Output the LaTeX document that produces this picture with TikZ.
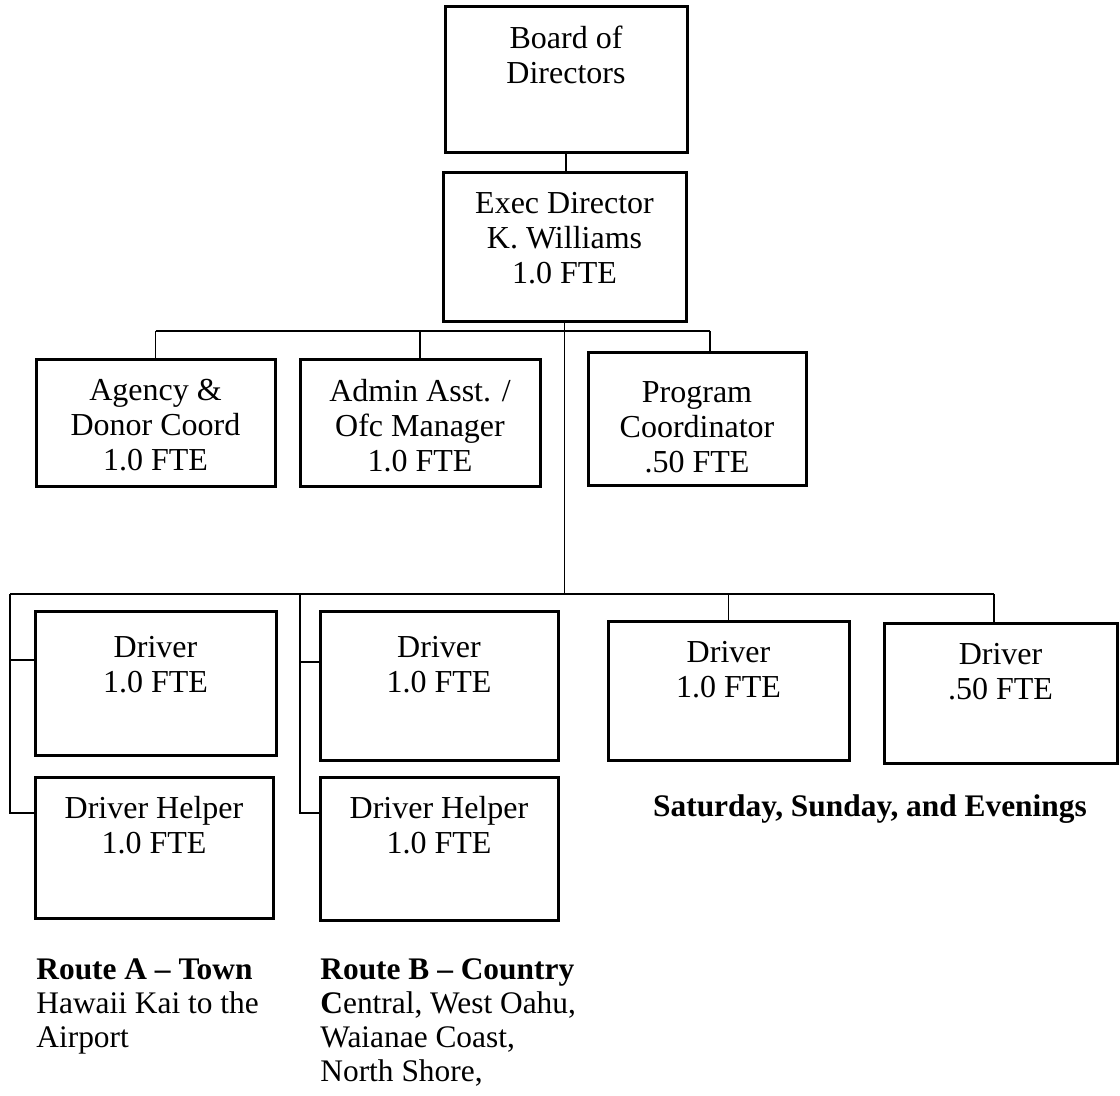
\documentclass[tikz,border=0pt]{standalone}
\usepackage{fontspec}
\setmainfont{Liberation Serif}
\tikzset{
  box/.style={draw, line width=1.5pt, inner sep=0pt},
  sz/.style 2 args={minimum width=#1*0.5pt, minimum height=#2*0.5pt},
  lbl/.style={anchor=north, yshift=-10pt, align=center, inner sep=0pt,
    font=\fontsize{16}{17.5}\selectfont},
  conn/.style={line width=0.6pt},
  note/.style={anchor=base west, inner sep=0pt, font=\fontsize{15.7}{17}\selectfont},
}
\begin{document}
\begin{tikzpicture}[x=0.5pt,y=-0.5pt]
\useasboundingbox (0,0) rectangle (1120,1096);

% boxes
\node[box, sz={242}{146}, label={[lbl]north:Board of\\Directors}] (board) at (566,80) {};
\node[box, sz={243}{149}, label={[lbl]north:Exec Director\\K. Williams\\1.0 FTE}] (exec) at (564.5,247.5) {};
\node[box, sz={239}{127}, label={[lbl]north:Agency \&\\Donor Coord\\1.0 FTE}] (agency) at (155.5,423.5) {};
\node[box, sz={240}{127}, label={[lbl]north:Admin Asst. /\\Ofc Manager\\1.0 FTE}] (admin) at (420,423.5) {};
\node[box, sz={218}{133}, label={[lbl, yshift=-5pt]north:Program\\Coordinator\\.50 FTE}] (program) at (697,419.5) {};
\node[box, sz={241}{143}, label={[lbl, yshift=-2.5pt]north:Driver\\1.0 FTE}] (driver1) at (155.5,683.5) {};
\node[box, sz={238}{141}, label={[lbl]north:Driver Helper\\1.0 FTE}] (helper1) at (154,847.5) {};
\node[box, sz={238}{148}, label={[lbl, yshift=-2.5pt]north:Driver\\1.0 FTE}] (driver2) at (439,686) {};
\node[box, sz={238}{143}, label={[lbl]north:Driver Helper\\1.0 FTE}] (helper2) at (439,848.5) {};
\node[box, sz={241}{138}, label={[lbl]north:Driver\\1.0 FTE}] (driver3) at (728.5,691) {};
\node[box, sz={233}{139}, label={[lbl]north:Driver\\.50 FTE}] (driver4) at (1000.5,693.5) {};

% bus coordinates
\coordinate (busA) at (0,331);
\coordinate (busB) at (0,594);
\coordinate (pA) at (710,331);
\coordinate (lB) at (10,594);
\coordinate (lD) at (10,660);
\coordinate (lH) at (10,813);
\coordinate (mB) at (300,594);
\coordinate (mD) at (300,662);
\coordinate (mH) at (300,813);
\coordinate (rB) at (994,594);

% connectors
\draw[conn] (board.south) -- (board.south |- exec.north);
\draw[conn] (exec.south) -- (exec.south |- busB);
\draw[conn] (agency.north |- busA) -- (pA);
\draw[conn] (agency.north) -- (agency.north |- busA);
\draw[conn] (admin.north) -- (admin.north |- busA);
\draw[conn] (pA) -- (pA |- program.north);
\draw[conn] (lB) -- (rB);
\draw[conn] (lB) -- (lH) -- (lH -| helper1.west);
\draw[conn] (lD) -- (lD -| driver1.west);
\draw[conn] (mB) -- (mH) -- (mH -| helper2.west);
\draw[conn] (mD) -- (mD -| driver2.west);
\draw[conn] (driver3.north) -- (driver3.north |- busB);
\draw[conn] (rB) -- (rB |- driver4.north);

% notes
\node[note, anchor=base, font=\fontsize{15.7}{17}\selectfont\bfseries] (sat) at (870,816) {Saturday, Sunday, and Evenings};
\node[note] (ra1) at (36,979) {\textbf{Route A – Town}};
\node[note] (ra2) at (36,1013) {Hawaii Kai to the};
\node[note] (ra3) at (36,1047) {Airport};
\node[note] (rb1) at (320,979) {\textbf{Route B – Country}};
\node[note] (rb2) at (320,1013) {\textbf{C}entral, West Oahu,};
\node[note] (rb3) at (320,1047) {Waianae Coast,};
\node[note] (rb4) at (320,1081) {North Shore,};
\end{tikzpicture}
\end{document}
